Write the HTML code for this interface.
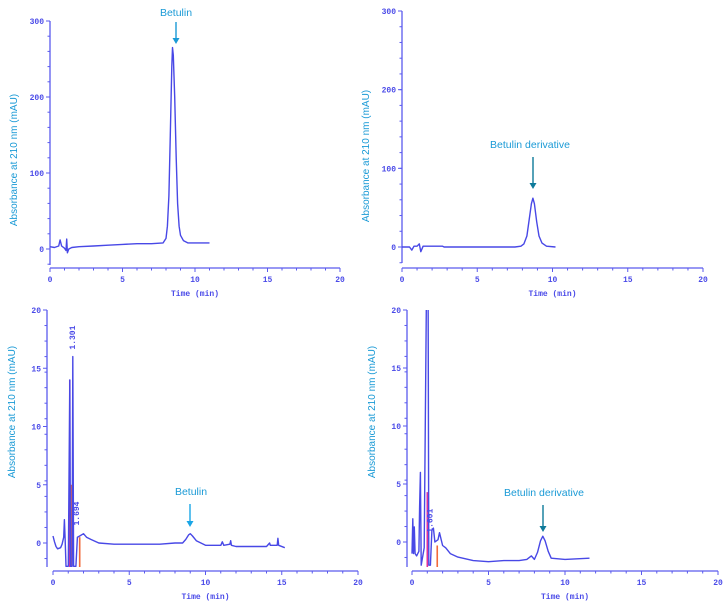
<!DOCTYPE html>
<html><head><meta charset="utf-8">
<style>
html,body{margin:0;padding:0;background:#fff;}
svg{display:block;}
.tk{font-family:"Liberation Mono",monospace;font-size:8px;fill:#4a4ae8;font-weight:bold;}
.yt{font-family:"Liberation Sans",sans-serif;font-size:10px;fill:#1a9ad6;}
.ann{font-family:"Liberation Sans",sans-serif;font-size:10.5px;fill:#1a9ad6;}
</style></head>
<body>
<svg id="chart" width="727" height="609" viewBox="0 0 727 609"></svg>
<script>
// ---- data ----
const p1Time=[0,0.3,0.6,0.7,0.8,1.0,1.1,1.15,1.2,1.3,1.5,2,3,4,5,6,7,7.8,8.0,8.1,8.2,8.3,8.4,8.45,8.5,8.6,8.7,8.8,8.9,9.0,9.2,9.5,10,11];
const p1Abs=[3,2,4,12,4,1,-2,13,-5,0,2,3,4,5,6,7,7,8,14,30,70,150,240,265,255,200,120,60,30,18,11,8,8,8];
const p2Time=[0,0.5,0.65,0.8,1.0,1.15,1.25,1.4,2,2.7,2.8,7.5,7.9,8.1,8.3,8.45,8.6,8.7,8.8,8.95,9.1,9.3,9.6,10.2];
const p2Abs=[0,0,-4,1,1,4,-6,1,1,1,0,0,1,4,14,35,55,62,55,32,14,5,1,0];
const p3Time=[0,0.1,0.2,0.3,0.5,0.6,0.7,0.75,0.8,0.85,1.0,1.1,1.15,1.25,1.3,1.35,1.5,1.6,1.75,2,2.2,2.5,3,4,6,7,8,8.5,8.7,8.9,9.0,9.15,9.4,9.7,10,11,11.1,11.2,11.6,11.65,11.7,12,14,14.2,14.25,14.7,14.75,14.8,15.2];
const p3Abs=[0.6,0.1,-0.3,-0.5,-0.4,-0.1,0.5,2,0.2,-2,-2,14,-2,-2,16,-2,-2,0.5,0.6,0.8,0.5,0.3,0,-0.1,-0.1,-0.1,0,0,0.3,0.7,0.8,0.6,0.2,0,-0.2,-0.2,0.1,-0.2,-0.1,0.2,-0.2,-0.3,-0.3,0,-0.2,-0.2,0.4,-0.2,-0.4];
const p4Time=[0,0.05,0.1,0.15,0.2,0.3,0.45,0.5,0.55,0.6,0.8,0.95,1.05,1.1,1.2,1.3,1.4,1.5,1.7,1.8,2,2.2,2.5,3,4,5,6,7,7.5,7.8,8.0,8.2,8.4,8.55,8.7,8.9,9.1,10,11.6];
const p4Abs=[-1,2,-1,1.3,-1,-1.2,-0.8,3,6,-2,-0.5,22,22,-2,-2,1,1.2,0,0.2,0.8,-0.3,-0.5,-1,-1.3,-1.6,-1.7,-1.6,-1.6,-1.5,-1.2,-1.5,-0.9,0.1,0.5,0.1,-0.8,-1.4,-1.5,-1.4];
const p3Marks=[1.1,1.2,1.75];
const p3MarkTop=[14,5,0.5];
const p4Marks=[1.0,1.65];
const p4MarkTop=[4.3,-0.3];
const xTicks=[0,5,10,15,20];
const yTicksBig=[0,100,200,300];
const yTicksSmall=[0,5,10,15,20];

const NS="http://www.w3.org/2000/svg";
const svg=document.getElementById('chart');
function mk(tag,attrs,parent){const e=document.createElementNS(NS,tag);for(const k in attrs)e.setAttribute(k,attrs[k]);(parent||svg).appendChild(e);return e;}

function panel(cfg){
  const g=mk('g',{});
  
  
  const sx=v=>cfg.x0+(v-0)*(cfg.x20-cfg.x0)/20;
  const sy=v=>cfg.y0+(v-0)*(cfg.yTop-cfg.y0)/cfg.yMax;
  const ya=mk('line',{x1:cfg.yAxisX,x2:cfg.yAxisX,y1:sy(cfg.yMax),y2:cfg.yAxisBottom,stroke:'#5a5aee','stroke-width':1.3},g);
  
  const xa=mk('line',{x1:cfg.x0,x2:cfg.x20,y1:cfg.xAxisY,y2:cfg.xAxisY,stroke:'#5a5aee','stroke-width':1.3},g);
  
  for(let t=0;t<=20;t++){
    mk('line',{x1:sx(t),x2:sx(t),y1:cfg.xAxisY,y2:cfg.xAxisY+(t%5==0?4:2.5),stroke:'#5a5aee','stroke-width':1},g);
  }
  xTicks.forEach(t=>{const e=mk('text',{x:sx(t),y:cfg.xAxisY+14,'text-anchor':'middle',class:'tk'},g);e.textContent=t;
    });
  const step=cfg.yMax/15;
  for(let v=0;v<=cfg.yMax+1e-9;v+=step){mk('line',{x1:cfg.yAxisX-2.5,x2:cfg.yAxisX,y1:sy(v),y2:sy(v),stroke:'#5a5aee','stroke-width':1},g);}
  for(let v=-step;sy(v)<cfg.yAxisBottom;v-=step){mk('line',{x1:cfg.yAxisX-2.5,x2:cfg.yAxisX,y1:sy(v),y2:sy(v),stroke:'#5a5aee','stroke-width':1},g);}
  cfg.yTicks.forEach(t=>{mk('line',{x1:cfg.yAxisX-4,x2:cfg.yAxisX,y1:sy(t),y2:sy(t),stroke:'#5a5aee','stroke-width':1},g);
    const e=mk('text',{x:cfg.yAxisX-6,y:sy(t)+3,'text-anchor':'end',class:'tk'},g);e.textContent=t;
    });
  const xt=mk('text',{x:(cfg.x0+cfg.x20)/2,y:cfg.xAxisY+28,'text-anchor':'middle',class:'tk'},g);xt.textContent='Time (min)';
  
  const yt=mk('text',{x:0,y:0,'text-anchor':'middle',class:'yt',transform:`translate(${cfg.yTitleX},${cfg.yTitleY}) rotate(-90)`},g);yt.textContent='Absorbance at 210 nm (mAU)';
  
  const cid='clip'+cfg.name;
  const cp=mk('clipPath',{id:cid},g);
  mk('rect',{x:cfg.yAxisX,y:sy(cfg.yMax),width:cfg.x20-cfg.yAxisX,height:cfg.yAxisBottom-sy(cfg.yMax)},cp);
  const cg=mk('g',{'clip-path':`url(#${cid})`},g);
  (cfg.marks||[]).forEach((m,i)=>{const l=mk('line',{x1:sx(m),x2:sx(m),y1:cfg.yAxisBottom,y2:sy(cfg.markTop[i]),stroke:i==0?'#e0309a':'#f26a3a','stroke-width':1.6},cg);
    });
  const d=cfg.t.map((t,i)=>(i?'L':'M')+sx(t).toFixed(1)+','+sy(cfg.a[i]).toFixed(1)).join(' ');
  const p=mk('path',{d:d,fill:'none',stroke:'#4848e6','stroke-width':1.4,'stroke-linejoin':'round'},cg);
  
  (cfg.labels||[]).forEach(L=>{const e=mk('text',{x:0,y:0,class:'tk',transform:`translate(${sx(L.t)+3},${sy(L.v)}) rotate(-90)`},g);e.textContent=L.s;
    });
  const A=cfg.ann;
  const at=mk('text',{x:A.x,y:A.y,'text-anchor':'middle',class:'ann'},g);at.textContent=A.s;
  
  const ar=mk('g',{},g);
  mk('line',{x1:A.ax,x2:A.ax,y1:A.a1,y2:A.a2-4,stroke:A.c,'stroke-width':1.4},ar);
  mk('path',{d:`M${A.ax-3.5},${A.a2-6} L${A.ax+3.5},${A.a2-6} L${A.ax},${A.a2} Z`,fill:A.c},ar);
}

panel({name:'panel-betulin-standard',x0:50,x20:340,y0:249,yTop:21,yMax:300,yAxisX:50,yAxisBottom:265,xAxisY:268,yTicks:yTicksBig,
  t:p1Time,a:p1Abs,yTitleX:17,yTitleY:160,ann:{s:'Betulin',x:176,y:16,ax:176,a1:22,a2:44,c:'#1a9ad6'}});
panel({name:'panel-betulin-derivative-standard',x0:402,x20:703,y0:247,yTop:11,yMax:300,yAxisX:402,yAxisBottom:263,xAxisY:268,yTicks:yTicksBig,
  t:p2Time,a:p2Abs,yTitleX:369,yTitleY:156,ann:{s:'Betulin derivative',x:530,y:148,ax:533,a1:157,a2:189,c:'#0e7a9a'}});
panel({name:'panel-sample-betulin',x0:53,x20:358,y0:543,yTop:310,yMax:20,yAxisX:47,yAxisBottom:567,xAxisY:571,yTicks:yTicksSmall,
  t:p3Time,a:p3Abs,marks:p3Marks,markTop:p3MarkTop,labels:[{t:1.25,v:16.6,s:'1.301'},{t:1.5,v:1.5,s:'1.694'}],
  yTitleX:15,yTitleY:412,ann:{s:'Betulin',x:191,y:495,ax:190,a1:504,a2:527,c:'#1aa6e6'}});
panel({name:'panel-sample-betulin-derivative',x0:412,x20:718,y0:542,yTop:310,yMax:20,yAxisX:407,yAxisBottom:567,xAxisY:571,yTicks:yTicksSmall,
  t:p4Time,a:p4Abs,marks:p4Marks,markTop:p4MarkTop,labels:[{t:1.15,v:0.8,s:'1.601'}],
  yTitleX:375,yTitleY:412,ann:{s:'Betulin derivative',x:544,y:496,ax:543,a1:505,a2:532,c:'#0e7a9a'}});
</script>
</body></html>
